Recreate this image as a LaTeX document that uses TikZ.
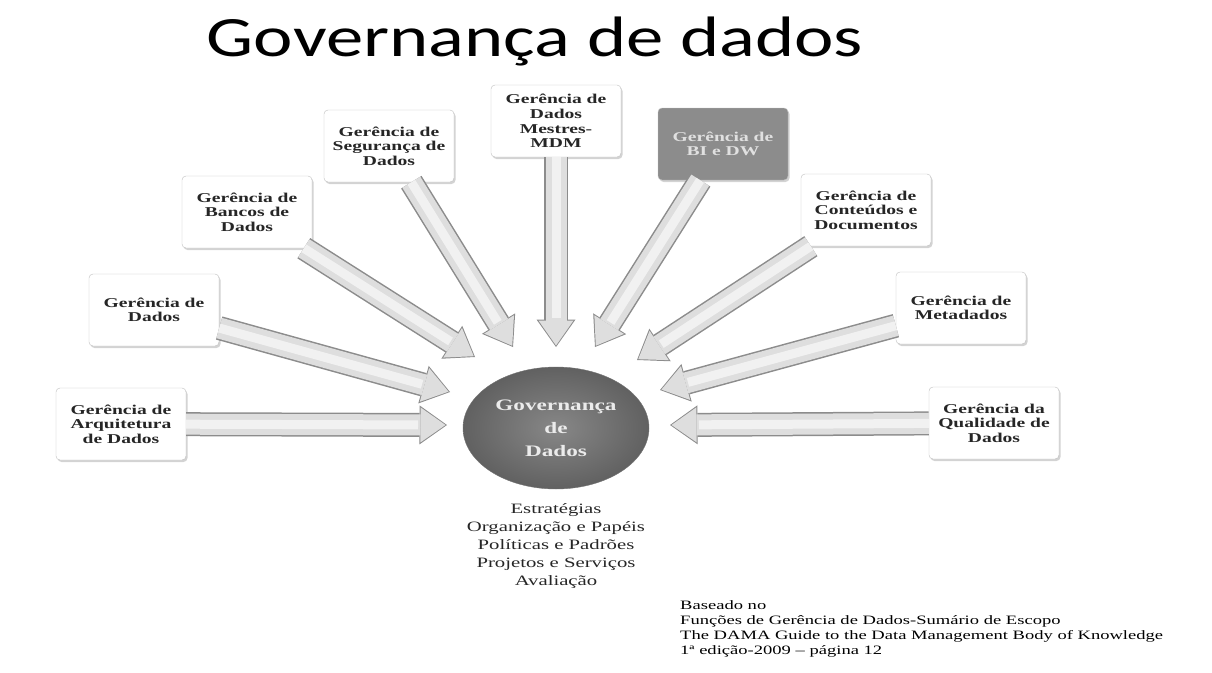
\documentclass[tikz,border=0pt]{standalone}
\usepackage{fontspec}
\setmainfont{Liberation Serif}
\newfontfamily\dmfont[FakeStretch=1.45]{Liberation Serif}
\newfontfamily\titlefont[FakeStretch=1.31]{Carlito}
\usetikzlibrary{arrows.meta,shapes.geometric,shadows}

\tikzset{
  areabox/.style={draw=black!25,fill=white,rounded corners=4pt,
    minimum width=130pt,minimum height=72pt,align=center,inner sep=2pt,
    font=\dmfont\bfseries\fontsize{13.5}{14.5}\selectfont,text=black!85,
    drop shadow={opacity=0.35,shadow xshift=1.5pt,shadow yshift=-2pt}},
  flow/.style={line width=21pt,draw=black!13,shorten >=1.5pt,
    -{Triangle[length=25pt,width=35pt,line width=0pt]},
    preaction={draw=black!45,line width=24pt,shorten >=0pt,
      -{Triangle[length=27.5pt,width=39pt,line width=0pt]}},
    postaction={draw=white,line width=9pt,opacity=0.6,shorten >=29pt,-}},
  govcircle/.style={ellipse,minimum width=186pt,minimum height=122pt,inner sep=0pt,
    inner color=black!47,outer color=black!62,draw=black!55,align=center,
    text=black!8,font=\dmfont\bfseries\fontsize{16}{23}\selectfont},
}

\begin{document}
\begin{tikzpicture}[x=1pt,y=-1pt]
  \useasboundingbox (0,0) rectangle (1212,672);

  \node[anchor=base,font=\titlefont\fontsize{57}{60}\selectfont] (title) at (535,56)
    {Governança de dados};

  \node[areabox] (gerarq) at (121,424) {Gerência de\\Arquitetura\\de Dados};
  \node[areabox] (gerdados) at (154,310) {Gerência de\\Dados};
  \node[areabox] (gerbancos) at (247,212) {Gerência de\\Bancos de\\Dados};
  \node[areabox] (gerseg) at (389,146) {Gerência de\\Segurança de\\Dados};
  \node[areabox] (germdm) at (556,121) {Gerência de\\Dados\\Mestres-\\MDM};
  \node[areabox,fill=black!45,text=black!12] (gerbi) at (723,144) {Gerência de\\BI e DW};
  \node[areabox] (gercont) at (866,210) {Gerência de\\Conteúdos e\\Documentos};
  \node[areabox] (germeta) at (961,308) {Gerência de\\Metadados};
  \node[areabox] (gerqual) at (994,423) {Gerência da\\Qualidade de\\Dados};

  \node[govcircle] (gov) at (556,428) {Governança\\de\\Dados};

  \coordinate (tiparq) at (447,425);
  \coordinate (tipdados) at (450,392);
  \coordinate (tipbancos) at (475,357);
  \coordinate (tipseg) at (513,347);
  \coordinate (tipmdm) at (556,347);
  \coordinate (tipbi) at (595,347);
  \coordinate (tipcont) at (637,360);
  \coordinate (tipmeta) at (660,390);
  \coordinate (tipqual) at (670,425);

  \draw[flow] (gerarq) -- (tiparq);
  \draw[flow] (gerdados) -- (tipdados);
  \draw[flow] (gerbancos) -- (tipbancos);
  \draw[flow] (gerseg) -- (tipseg);
  \draw[flow] (germdm) -- (tipmdm);
  \draw[flow] (gerbi) -- (tipbi);
  \draw[flow] (gercont) -- (tipcont);
  \draw[flow] (germeta) -- (tipmeta);
  \draw[flow] (gerqual) -- (tipqual);

  \node[align=center,text=black!85,font=\dmfont\fontsize{14.3}{18}\selectfont] (govlist) at (556,546)
    {Estratégias\\Organização e Papéis\\Políticas e Padrões\\Projetos e Serviços\\Avaliação};

  \node[anchor=north west,inner sep=0pt,align=left,font=\dmfont\fontsize{12.8}{15}\selectfont] (fonte) at (680,600)
    {Baseado no\\Funções de Gerência de Dados-Sumário de Escopo\\The DAMA Guide to the Data Management Body of Knowledge\\1ª edição-2009 – página 12};
\end{tikzpicture}
\end{document}
